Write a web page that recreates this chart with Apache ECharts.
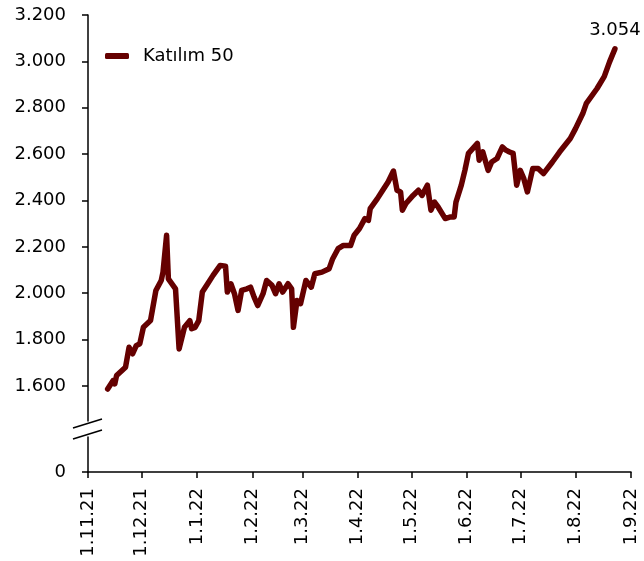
<!DOCTYPE html>
<html>
<head>
<meta charset="utf-8">
<script src="https://cdn.jsdelivr.net/npm/echarts@6.0.0/dist/echarts.min.js"></script>
<style>
html, body { margin: 0; padding: 0; background: #fff; }
#main { width: 644px; height: 561px; }
</style>
</head>
<body>
<div id="main"></div>
<script>
var seriesName = 'Katılım 50';

// index level
var dates = [
    '2021-11-12', '2021-11-15', '2021-11-16', '2021-11-17', '2021-11-22', '2021-11-24', '2021-11-26', '2021-11-28', '2021-11-30',
    '2021-12-02', '2021-12-06', '2021-12-09', '2021-12-12', '2021-12-13', '2021-12-15', '2021-12-16', '2021-12-20', '2021-12-22',
    '2021-12-23', '2021-12-25', '2021-12-28', '2021-12-29', '2021-12-31',
    '2022-01-02', '2022-01-04', '2022-01-07', '2022-01-10', '2022-01-14', '2022-01-17', '2022-01-18', '2022-01-20', '2022-01-22',
    '2022-01-24', '2022-01-26', '2022-01-29', '2022-01-31',
    '2022-02-02', '2022-02-04', '2022-02-07', '2022-02-09', '2022-02-12', '2022-02-14', '2022-02-16', '2022-02-18', '2022-02-21',
    '2022-02-23', '2022-02-24', '2022-02-26', '2022-02-28',
    '2022-03-03', '2022-03-06', '2022-03-08', '2022-03-12', '2022-03-16', '2022-03-18', '2022-03-21', '2022-03-24', '2022-03-28',
    '2022-03-30',
    '2022-04-02', '2022-04-05', '2022-04-07', '2022-04-08', '2022-04-12', '2022-04-15', '2022-04-18', '2022-04-21', '2022-04-23',
    '2022-04-25', '2022-04-26', '2022-04-28',
    '2022-05-02', '2022-05-05', '2022-05-07', '2022-05-10', '2022-05-12', '2022-05-14', '2022-05-16', '2022-05-20', '2022-05-23',
    '2022-05-25', '2022-05-26', '2022-05-29', '2022-05-31',
    '2022-06-02', '2022-06-07', '2022-06-08', '2022-06-10', '2022-06-13', '2022-06-15', '2022-06-18', '2022-06-21', '2022-06-23',
    '2022-06-25', '2022-06-27', '2022-06-29',
    '2022-07-01', '2022-07-03', '2022-07-05', '2022-07-08', '2022-07-11', '2022-07-14', '2022-07-19', '2022-07-23', '2022-07-29',
    '2022-08-01', '2022-08-05', '2022-08-07', '2022-08-13', '2022-08-17', '2022-08-20', '2022-08-23'
];
var values = [
    1587, 1623, 1609, 1645, 1681, 1767, 1739, 1774, 1782,
    1853, 1882, 2012, 2055, 2091, 2250, 2062, 2019, 1760,
    1753, 1853, 1882, 1847, 1853,
    1882, 2005, 2041, 2077, 2120, 2117, 2005, 2041, 1998,
    1926, 2012, 2019, 2026,
    1983, 1947, 1998, 2055, 2034, 1998, 2041, 2005, 2041,
    2019, 1853, 1969, 1955,
    2055, 2026, 2084, 2091, 2106, 2149, 2192, 2206, 2206,
    2250,
    2279, 2322, 2314, 2365, 2408, 2444, 2480, 2527, 2444,
    2437, 2358, 2387,
    2422, 2444, 2422, 2466, 2358, 2393, 2372, 2322, 2329,
    2329, 2393, 2466, 2530,
    2603, 2646, 2574, 2610, 2530, 2566, 2581, 2631, 2617,
    2609, 2603, 2466,
    2530, 2494, 2437, 2538, 2538, 2516, 2566, 2609, 2667,
    2711, 2775, 2819, 2883, 2934, 2998, 3054
];

// x axis ticks (first day of each month)
var tickLabels = ['1.11.21', '1.12.21', '1.1.22', '1.2.22', '1.3.22', '1.4.22', '1.5.22', '1.6.22', '1.7.22', '1.8.22', '1.9.22'];

// y axis ticks, the range between 0 and 1600 is cut out
var yTicks = [0, 1600, 1800, 2000, 2200, 2400, 2600, 2800, 3000, 3200];
var yMin = 0;
var yMax = 3200;
var yStep = 200;
var breakStart = 150;
var breakEnd = 1450;

function labelToTime(s) {
    var p = s.split('.');
    return new Date(2000 + Number(p[2]), Number(p[1]) - 1, Number(p[0])).getTime();
}
function dateToTime(s) {
    var p = s.split('-');
    return new Date(Number(p[0]), Number(p[1]) - 1, Number(p[2])).getTime();
}
var tickTimes = tickLabels.map(labelToTime);

var data = [];
for (var i = 0; i < dates.length; i++) {
    var pt = [dateToTime(dates[i]), values[i]];
    if (i === dates.length - 1) {
        // only the last point carries a label
        data.push({value: pt, symbolSize: 2, label: {show: true}});
    } else {
        data.push(pt);
    }
}

var font = 'DejaVu Sans';
var myChart = echarts.init(document.getElementById('main'));

var option = {
    animation: false,
    textStyle: {fontFamily: font},
    grid: {left: 88, right: 13, top: 15, bottom: 89},
    legend: {
        left: 100,
        top: 42,
        icon: 'roundRect',
        itemWidth: 24,
        itemHeight: 6,
        textStyle: {fontFamily: font, fontSize: 18, color: '#000', padding: [0, 0, 0, 9]},
        data: [seriesName]
    },
    xAxis: {
        type: 'value',
        min: tickTimes[0],
        max: tickTimes[tickTimes.length - 1],
        splitLine: {show: false},
        axisLine: {onZero: false, lineStyle: {color: '#000', width: 1.5}},
        axisTick: {
            show: true,
            length: 6,
            customValues: tickTimes,
            lineStyle: {color: '#000', width: 1.5}
        },
        axisLabel: {
            customValues: tickTimes,
            rotate: 90,
            margin: 16,
            fontFamily: font,
            fontSize: 18,
            color: '#000',
            formatter: function (val) {
                var d = new Date(val);
                return d.getDate() + '.' + (d.getMonth() + 1) + '.' + String(d.getFullYear()).slice(2);
            }
        }
    },
    yAxis: {
        type: 'value',
        min: yMin,
        max: yMax,
        interval: yStep,
        breaks: [{start: breakStart, end: breakEnd, gap: 71}],
        breakArea: {show: false},
        splitLine: {show: false},
        axisLine: {show: true, lineStyle: {color: '#000', width: 1.5}},
        axisTick: {show: true, length: 6, customValues: yTicks, lineStyle: {color: '#000', width: 1.5}},
        axisLabel: {
            customValues: yTicks,
            margin: 22,
            fontFamily: font,
            fontSize: 18,
            color: '#000',
            formatter: function (v) {
                if (v % yStep !== 0) {
                    return '';
                }
                return v === 0 ? '0' : (v / 1000).toFixed(3);
            }
        }
    },
    series: [
        {
            name: seriesName,
            type: 'line',
            symbol: 'circle',
            symbolSize: 0,
            data: data,
            itemStyle: {color: '#650000'},
            lineStyle: {color: '#650000', width: 5.5, cap: 'round', join: 'round'},
            label: {
                show: false,
                position: 'top',
                distance: 9,
                fontFamily: font,
                fontSize: 18,
                color: '#000',
                formatter: function (p) {
                    return (p.value[1] / 1000).toFixed(3);
                }
            }
        }
    ]
};

myChart.setOption(option);

// break marks on the y axis
var ax = myChart.convertToPixel({xAxisIndex: 0}, tickTimes[0]);
var yTop = myChart.convertToPixel({yAxisIndex: 0}, breakEnd);
var yBot = myChart.convertToPixel({yAxisIndex: 0}, breakStart);
var mid = (yTop + yBot) / 2;
var up = mid - 5.5;
var low = mid + 5.5;
myChart.setOption({
    graphic: [
        {
            type: 'polygon',
            shape: {points: [[ax - 15, up + 4.5], [ax + 14, up - 4.5], [ax + 14, low - 4.5], [ax - 15, low + 4.5]]},
            style: {fill: '#fff'}
        },
        {
            type: 'line',
            shape: {x1: ax - 15, y1: up + 4.5, x2: ax + 14, y2: up - 4.5},
            style: {stroke: '#000', lineWidth: 1.5}
        },
        {
            type: 'line',
            shape: {x1: ax - 15, y1: low + 4.5, x2: ax + 14, y2: low - 4.5},
            style: {stroke: '#000', lineWidth: 1.5}
        }
    ]
});
</script>
</body>
</html>
